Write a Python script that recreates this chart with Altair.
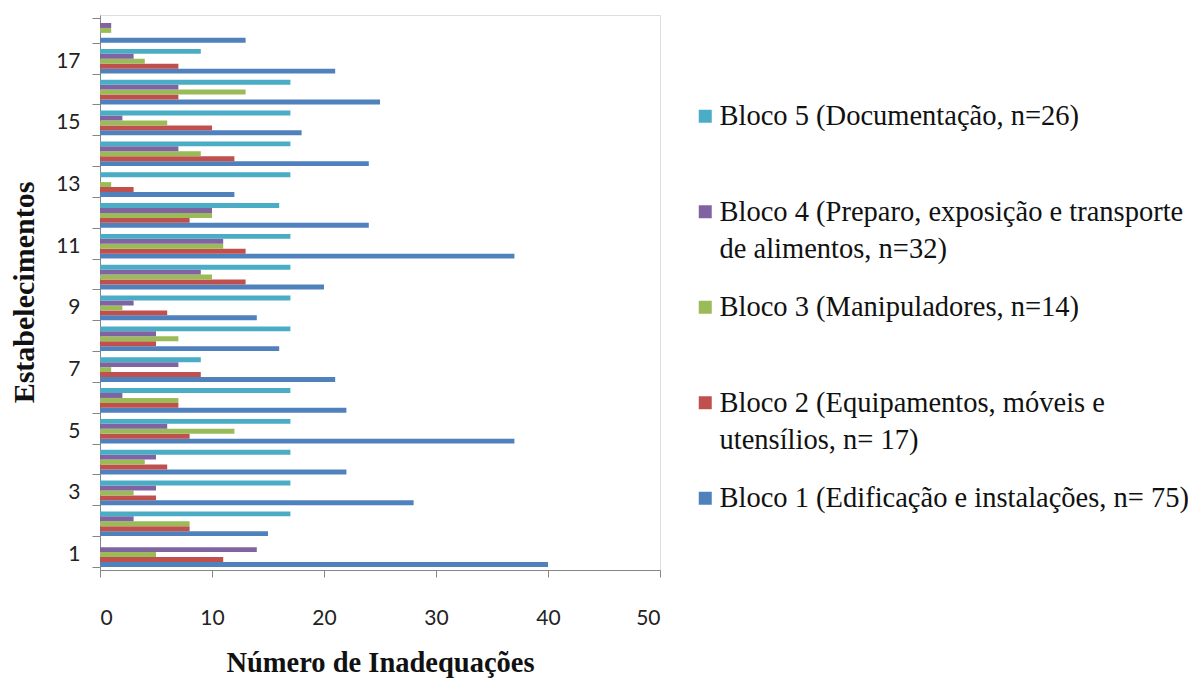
import altair as alt
import pandas as pd

establishments = [str(i) for i in range(1, 19)]
bloco1 = [40, 15, 28, 22, 37, 22, 21, 16, 14, 20, 37, 24, 12, 24, 18, 25, 21, 13]
bloco2 = [11, 8, 5, 6, 8, 7, 9, 5, 6, 13, 13, 8, 3, 12, 10, 7, 7, 0]
bloco3 = [5, 8, 3, 4, 12, 7, 1, 7, 2, 10, 11, 10, 1, 9, 6, 13, 4, 1]
bloco4 = [14, 3, 5, 5, 6, 2, 7, 5, 3, 9, 11, 10, 0, 7, 2, 7, 3, 1]
bloco5 = [0, 17, 17, 17, 17, 17, 9, 17, 17, 17, 17, 16, 17, 17, 17, 17, 9, 0]

series_labels = [
    "Bloco 1 (Edificação e instalações, n= 75)",
    "Bloco 2 (Equipamentos, móveis e|utensílios, n= 17)",
    "Bloco 3 (Manipuladores,  n=14)",
    "Bloco 4 (Preparo, exposição e transporte|de alimentos, n=32)",
    "Bloco 5 (Documentação, n=26)",
]
series_colors = ["#4F81BD", "#C0504D", "#9BBB59", "#8064A2", "#4BACC6"]
x_ticks = [0, 10, 20, 30, 40, 50]

rows = []
for label, vals in zip(series_labels, [bloco1, bloco2, bloco3, bloco4, bloco5]):
    for est, v in zip(establishments, vals):
        rows.append({"Estab": est, "Bloco": label, "Valor": v})
df = pd.DataFrame(rows)

rev_series = series_labels[::-1]
tick_font = "Lato, Open Sans, sans-serif"

chart = alt.Chart(df).mark_bar().encode(
    x=alt.X(
        "Valor:Q",
        scale=alt.Scale(domain=[0, 50], nice=False),
        axis=alt.Axis(
            values=x_ticks,
            grid=False,
            tickSize=7,
            labelPadding=30,
            labelFont=tick_font,
            labelFontSize=21,
            labelColor="#222222",
            title="Número de Inadequações",
            titleFont="Liberation Serif",
            titleFontWeight="bold",
            titleFontSize=28.5,
            titleColor="#111111",
            titlePadding=20,
            domainColor="#868686",
            tickColor="#868686",
        ),
    ),
    y=alt.Y(
        "Estab:N",
        sort=establishments[::-1],
        scale=alt.Scale(paddingInner=0.2, paddingOuter=0.1),
        axis=alt.Axis(
            labelExpr="toNumber(datum.value) % 2 == 1 ? datum.value : ''",
            tickBand="extent",
            tickSize=8,
            labelPadding=12,
            labelFont=tick_font,
            labelFontSize=21,
            labelColor="#222222",
            title="Estabelecimentos",
            titleFont="Liberation Serif",
            titleFontWeight="bold",
            titleFontSize=30,
            titleColor="#111111",
            titleX=-76,
            titleY=277,
            titleAngle=-90,
            titleAlign="center",
            titleBaseline="middle",
            domainColor="#868686",
            tickColor="#868686",
        ),
    ),
    yOffset=alt.YOffset("Bloco:N", sort=rev_series, scale=alt.Scale(paddingInner=0)),
    color=alt.Color(
        "Bloco:N",
        sort=rev_series,
        scale=alt.Scale(domain=rev_series, range=series_colors[::-1]),
        legend=alt.Legend(
            title=None,
            orient="none",
            legendX=591,
            legendY=87,
            symbolType="square",
            symbolSize=169,
            symbolStrokeWidth=0,
            labelFont="Liberation Serif",
            labelFontSize=28.5,
            labelColor="#111111",
            labelLimit=700,
            labelOffset=0,
            labelExpr="split(datum.label, '|')",
            rowPadding=29.5,
            gridAlign="all",
        ),
    ),
).properties(
    width=560,
    height=555,
    autosize=alt.AutoSizeParams(type="none"),
    padding={"left": 92, "top": 7, "right": 528, "bottom": 108},
).configure_view(stroke=None).configure(
    background="white",
    style={"guide-label": {"lineHeight": 37}},
)

chart.save("out.html", embed_options={"renderer": "svg", "actions": False})
